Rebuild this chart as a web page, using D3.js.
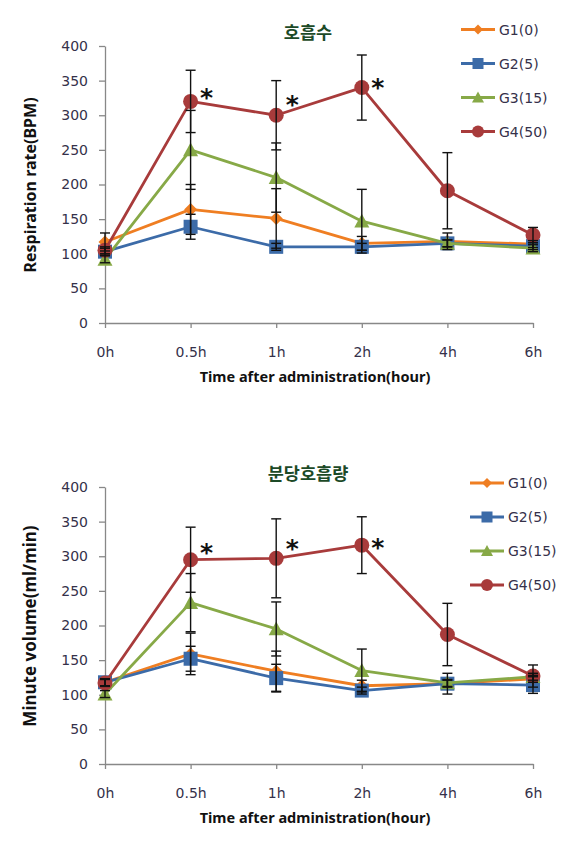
<!DOCTYPE html>
<html>
<head>
<meta charset="utf-8">
<script src="https://cdn.jsdelivr.net/npm/d3@7"></script>
<style>
  html, body { margin: 0; padding: 0; background: #fff; }
  svg { display: block; }
</style>
</head>
<body>
<script>
// ---------- DATA ----------
const times = ["0h", "0.5h", "1h", "2h", "4h", "6h"];
const groups = ["G1(0)", "G2(5)", "G3(15)", "G4(50)"];
const yTicks = [0, 50, 100, 150, 200, 250, 300, 350, 400];

// Chart 1: 호흡수 (respiration rate, BPM)
const respG1 = [117, 164, 151, 115, 118, 114];
const respG2 = [103, 139, 110, 110, 115, 111];
const respG3 = [92, 250, 210, 147, 115, 108];
const respG4 = [105, 320, 300, 340, 191, 127];
const respErrG1 = [13, 36, 43, 10, 12, 5];
const respErrG2 = [5, 18, 5, 5, 5, 5];
const respErrG3 = [5, 57, 50, 46, 5, 5];
const respErrG4 = [5, 45, 50, 47, 55, 11];
const respStarTimes = ["0.5h", "1h", "2h"];
const respStarValues = [333, 323, 348];

// Chart 2: 분당호흡량 (minute volume, ml/min)
const mvG1 = [118, 159, 134, 113, 116, 123];
const mvG2 = [118, 152, 124, 106, 116, 114];
const mvG3 = [101, 233, 195, 135, 117, 126];
const mvG4 = [117, 295, 297, 316, 187, 127];
const mvErrG1 = [5, 30, 29, 8, 5, 5];
const mvErrG2 = [5, 18, 20, 5, 15, 12];
const mvErrG3 = [5, 42, 39, 31, 5, 5];
const mvErrG4 = [5, 47, 57, 41, 45, 16];
const mvStarTimes = ["0.5h", "1h", "2h"];
const mvStarValues = [314, 319, 321];

// ---------- STYLE ----------
const colors = ["#EF7E22", "#3C6BA8", "#87A947", "#A83B3B"];
const markerTypes = ["diamond", "square", "triangle", "circle"];
const axisColor = "#888888";
const textColor = "#35314a";
const titleColor = "#1c4a27";

const W = 575, H = 851;
const svg = d3.select("body").append("svg")
  .attr("width", W).attr("height", H)
  .attr("viewBox", `0 0 ${W} ${H}`);
svg.append("rect").attr("width", W).attr("height", H).attr("fill", "#fff");

function drawMarker(g, type, x, y, color, size) {
  if (type === "circle") {
    g.append("circle").attr("cx", x).attr("cy", y).attr("r", size / 2).attr("fill", color);
  } else if (type === "square") {
    g.append("rect").attr("x", x - size / 2).attr("y", y - size / 2)
      .attr("width", size).attr("height", size).attr("fill", color);
  } else if (type === "diamond") {
    const s = size / 2;
    g.append("path").attr("d", `M${x},${y - s}L${x + s},${y}L${x},${y + s}L${x - s},${y}Z`).attr("fill", color);
  } else if (type === "triangle") {
    const s = size / 2;
    g.append("path").attr("d", `M${x},${y - s}L${x + s},${y + s * 0.85}L${x - s},${y + s * 0.85}Z`).attr("fill", color);
  }
}

function drawChart(cfg) {
  const g = svg.append("g");
  const x = d3.scalePoint().domain(times).range([105, 533]).padding(0);
  const y = d3.scaleLinear().domain([0, 400]).range([cfg.bottom, cfg.bottom - 277]);

  // y axis
  const yAxis = g.append("g").attr("transform", "translate(105,0)")
    .call(d3.axisLeft(y).tickValues(yTicks).tickSize(6).tickPadding(11).tickSizeOuter(0));
  yAxis.select(".domain").attr("stroke", axisColor).attr("stroke-width", 1.3);
  yAxis.selectAll(".tick line").attr("stroke", axisColor).attr("stroke-width", 1.3);
  yAxis.selectAll(".tick text").attr("fill", textColor)
    .style("font-family", "'DejaVu Sans', sans-serif").style("font-size", "14px");

  // x axis
  const xAxis = g.append("g").attr("transform", `translate(0,${cfg.bottom})`)
    .call(d3.axisBottom(x).tickSize(5).tickPadding(19).tickSizeOuter(0));
  xAxis.select(".domain").attr("stroke", axisColor).attr("stroke-width", 1.3);
  xAxis.selectAll(".tick line").attr("stroke", axisColor).attr("stroke-width", 1.3);
  xAxis.selectAll(".tick text").attr("fill", textColor)
    .style("font-family", "'DejaVu Sans', sans-serif").style("font-size", "14px");

  // axis titles
  g.append("text").attr("x", 315).attr("y", cfg.bottom + 59)
    .attr("text-anchor", "middle").attr("fill", "#111")
    .style("font-family", "'Noto Sans', sans-serif").style("font-weight", "bold").style("font-size", "14.5px")
    .text("Time after administration(hour)");
  g.append("text")
    .attr("transform", `translate(36,${cfg.bottom - 138}) rotate(-90)`)
    .attr("text-anchor", "middle").attr("fill", "#111")
    .style("font-family", "'Noto Sans', sans-serif").style("font-weight", "bold").style("font-size", cfg.yLabelSize)
    .text(cfg.yLabel);

  // title
  g.append("text").attr("x", 308).attr("y", cfg.bottom - 284)
    .attr("text-anchor", "middle").attr("fill", titleColor)
    .style("font-family", "'Noto Sans CJK KR', sans-serif").style("font-weight", "bold").style("font-size", "17.5px")
    .text(cfg.title);

  // lines
  const line = d3.line().x((d, i) => x(times[i])).y(d => y(d));
  cfg.series.forEach((vals, k) => {
    g.append("path").datum(vals).attr("d", line)
      .attr("fill", "none").attr("stroke", colors[k]).attr("stroke-width", 2.8)
      .attr("stroke-linejoin", "round");
    const mg = g.append("g");
    const sizes = { diamond: 13, square: 14, triangle: 15, circle: 15 };
    vals.forEach((v, i) => drawMarker(mg, markerTypes[k], x(times[i]), y(v), colors[k], sizes[markerTypes[k]]));
  });

  // error bars
  const eg = g.append("g").attr("stroke", "#111").attr("stroke-width", 1.4);
  cfg.series.forEach((vals, k) => {
    vals.forEach((v, i) => {
      const e = cfg.errors[k][i];
      const cx = x(times[i]);
      const y1 = y(v + e), y2 = y(v - e);
      eg.append("line").attr("x1", cx).attr("x2", cx).attr("y1", y1).attr("y2", y2);
      eg.append("line").attr("x1", cx - 5).attr("x2", cx + 5).attr("y1", y1).attr("y2", y1);
      eg.append("line").attr("x1", cx - 5).attr("x2", cx + 5).attr("y1", y2).attr("y2", y2);
    });
  });

  // significance stars
  cfg.starTimes.forEach((t, i) => {
    g.append("text").attr("x", x(t) + 16).attr("y", y(cfg.starValues[i]) + 14)
      .attr("text-anchor", "middle").attr("fill", "#111")
      .style("font-family", "'DejaVu Sans', sans-serif").style("font-weight", "bold").style("font-size", "25px")
      .text("*");
  });

  // legend
  const lg = g.append("g");
  groups.forEach((name, k) => {
    const ly = cfg.legendY + k * 34;
    lg.append("line").attr("x1", cfg.legendX).attr("x2", cfg.legendX + 34)
      .attr("y1", ly).attr("y2", ly).attr("stroke", colors[k]).attr("stroke-width", 2.8);
    const lsizes = { diamond: 10, square: 11, triangle: 12, circle: 12 };
    drawMarker(lg, markerTypes[k], cfg.legendX + 17, ly, colors[k], lsizes[markerTypes[k]]);
    lg.append("text").attr("x", cfg.legendX + cfg.legendGap).attr("y", ly + 5)
      .attr("fill", textColor)
      .style("font-family", "'DejaVu Sans', sans-serif").style("font-size", "14px")
      .text(name);
  });
}

drawChart({
  bottom: 323,
  title: "호흡수",
  yLabel: "Respiration rate(BPM)",
  yLabelSize: "16px",
  series: [respG1, respG2, respG3, respG4],
  errors: [respErrG1, respErrG2, respErrG3, respErrG4],
  starTimes: respStarTimes, starValues: respStarValues,
  legendX: 461, legendY: 29.5, legendGap: 38
});

drawChart({
  bottom: 764,
  title: "분당호흡량",
  yLabel: "Minute volume(ml/min)",
  yLabelSize: "17px",
  series: [mvG1, mvG2, mvG3, mvG4],
  errors: [mvErrG1, mvErrG2, mvErrG3, mvErrG4],
  starTimes: mvStarTimes, starValues: mvStarValues,
  legendX: 470, legendY: 483, legendGap: 38
});
</script>
</body>
</html>
